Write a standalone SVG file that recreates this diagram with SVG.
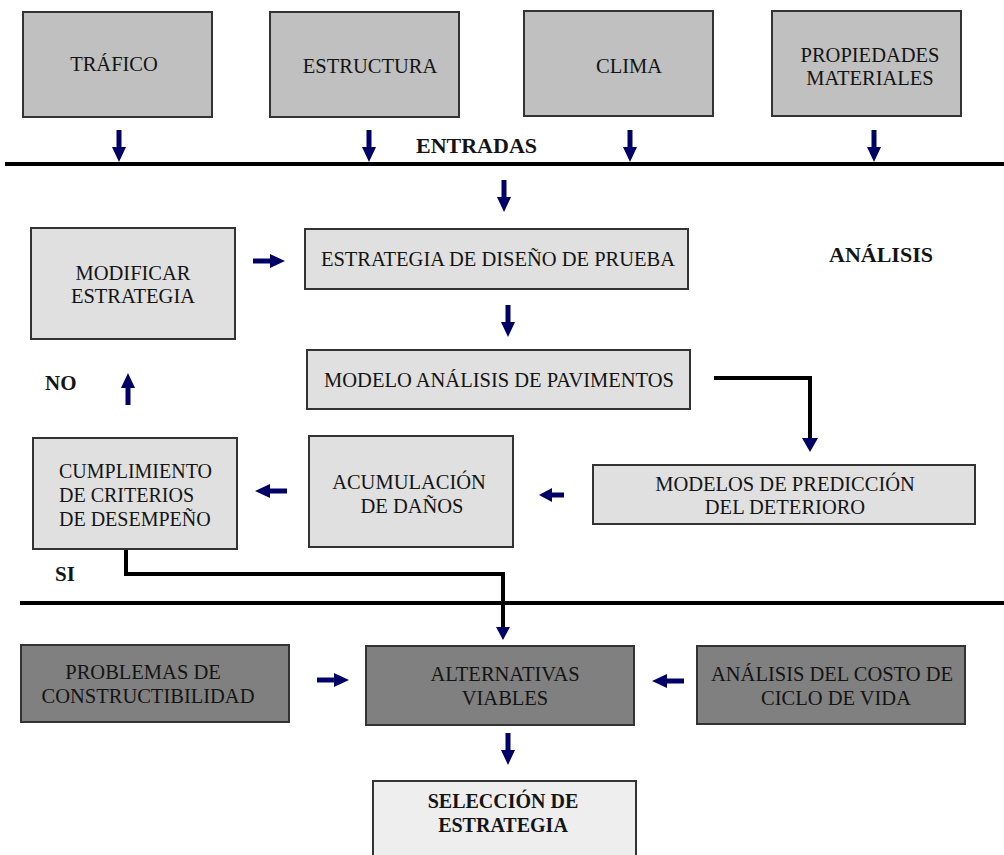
<svg xmlns="http://www.w3.org/2000/svg" width="1004" height="855" viewBox="0 0 1004 855">
<style>
.box{stroke:#333;stroke-width:2}
.g1{fill:#c0c0c0}
.g2{fill:#e0e0e0}
.g3{fill:#808080}
.g4{fill:#eeeeee}
text{font-family:"Liberation Serif","DejaVu Serif",serif;font-size:20.5px;fill:#141414;font-weight:normal}
.c{text-anchor:middle}
.b{font-weight:bold}
.s{font-size:20px}
.lbl{font-size:22px}
.lbl2{font-size:21px}
.ln{fill:none;stroke:#000;stroke-width:4}
.ah{fill:#000066}
</style>
<defs>
<g id="arr"><rect x="-2.5" y="0" width="5" height="19" fill="#000066"/><polygon points="-7,17 7,17 0,32" fill="#000066"/></g>
<g id="arrs"><rect x="-2.5" y="0" width="5" height="14" fill="#000066"/><polygon points="-7,12 7,12 0,25" fill="#000066"/></g>
</defs>
<rect width="1004" height="855" fill="#fff"/>

<g id="connectors">
<line class="ln" x1="5" y1="164" x2="1004" y2="164"/>
<line class="ln" x1="20" y1="603" x2="1004" y2="603"/>
<path class="ln" d="M714,378 H810 V440"/>
<polygon class="ah" points="802,438 818,438 810,452"/>
<path class="ln" d="M126,549 V574 H503 V630"/>
<polygon class="ah" points="496,627 510,627 503,640"/>
<use href="#arr" transform="translate(119,130)"/>
<use href="#arr" transform="translate(369,130)"/>
<use href="#arr" transform="translate(630,130)"/>
<use href="#arr" transform="translate(874,130)"/>
<use href="#arr" transform="translate(504,180)"/>
<use href="#arr" transform="translate(253,261) rotate(-90)"/>
<use href="#arr" transform="translate(508,305)"/>
<use href="#arr" transform="translate(128,405) rotate(180)"/>
<use href="#arr" transform="translate(287,491) rotate(90)"/>
<use href="#arrs" transform="translate(564,495) rotate(90)"/>
<use href="#arr" transform="translate(317,680) rotate(-90)"/>
<use href="#arr" transform="translate(684,681) rotate(90)"/>
<use href="#arr" transform="translate(508,733)"/>
</g>

<g id="trafico"><rect class="box g1" x="23" y="12" width="189" height="105"/><text class="c" x="114" y="71">TRÁFICO</text></g>
<g id="estructura"><rect class="box g1" x="270" y="12" width="189" height="105"/><text class="c" x="370" y="73">ESTRUCTURA</text></g>
<g id="clima"><rect class="box g1" x="524" y="11" width="189" height="105"/><text class="c" x="629" y="73">CLIMA</text></g>
<g id="propiedades"><rect class="box g1" x="772" y="11" width="189" height="105"/><text class="c" x="870" y="62">PROPIEDADES</text><text class="c" x="870" y="85">MATERIALES</text></g>

<g id="entradas"><text class="b lbl" x="416" y="153">ENTRADAS</text></g>
<g id="analisis"><text class="b lbl" x="829" y="262">ANÁLISIS</text></g>

<g id="modificar"><rect class="box g2" x="31" y="228" width="204" height="111"/><text class="c" x="133" y="280">MODIFICAR</text><text class="c" x="133" y="303">ESTRATEGIA</text></g>
<g id="estrategia"><rect class="box g2" x="305" y="229" width="383" height="60"/><text class="c" x="498" y="266">ESTRATEGIA DE DISEÑO DE PRUEBA</text></g>
<g id="modelo"><rect class="box g2" x="307" y="350" width="383" height="59"/><text class="c" x="499" y="387">MODELO ANÁLISIS DE PAVIMENTOS</text></g>
<g id="prediccion"><rect class="box g2" x="593" y="465" width="382" height="59"/><text class="c" x="785" y="491">MODELOS DE PREDICCIÓN</text><text class="c" x="785" y="514">DEL DETERIORO</text></g>
<g id="no"><text class="b lbl2" x="45" y="390">NO</text></g>
<g id="cumplimiento"><rect class="box g2" x="33" y="438" width="204" height="111"/><text class="s" x="59" y="478">CUMPLIMIENTO</text><text class="s" x="59" y="502">DE CRITERIOS</text><text class="s" x="59" y="526">DE DESEMPEÑO</text></g>
<g id="acumulacion"><rect class="box g2" x="309" y="436" width="204" height="111"/><text class="c" x="409" y="489">ACUMULACIÓN</text><text class="c" x="412" y="513">DE DAÑOS</text></g>
<g id="si"><text class="b lbl2" x="55" y="581">SI</text></g>

<g id="problemas"><rect class="box g3" x="21" y="645" width="268" height="77"/><text class="c" x="143" y="679">PROBLEMAS DE</text><text class="c" x="148" y="703">CONSTRUCTIBILIDAD</text></g>
<g id="alternativas"><rect class="box g3" x="366" y="646" width="268" height="79"/><text class="c" x="505" y="681">ALTERNATIVAS</text><text class="c" x="505" y="705">VIABLES</text></g>
<g id="costo"><rect class="box g3" x="697" y="646" width="268" height="78"/><text class="c" x="832" y="681">ANÁLISIS DEL COSTO DE</text><text class="c" x="836" y="705">CICLO DE VIDA</text></g>
<g id="seleccion"><rect class="box g4" x="373" y="781" width="263" height="85"/><text class="c b s" x="503" y="808">SELECCIÓN DE</text><text class="c b s" x="503" y="832">ESTRATEGIA</text></g>
</svg>
